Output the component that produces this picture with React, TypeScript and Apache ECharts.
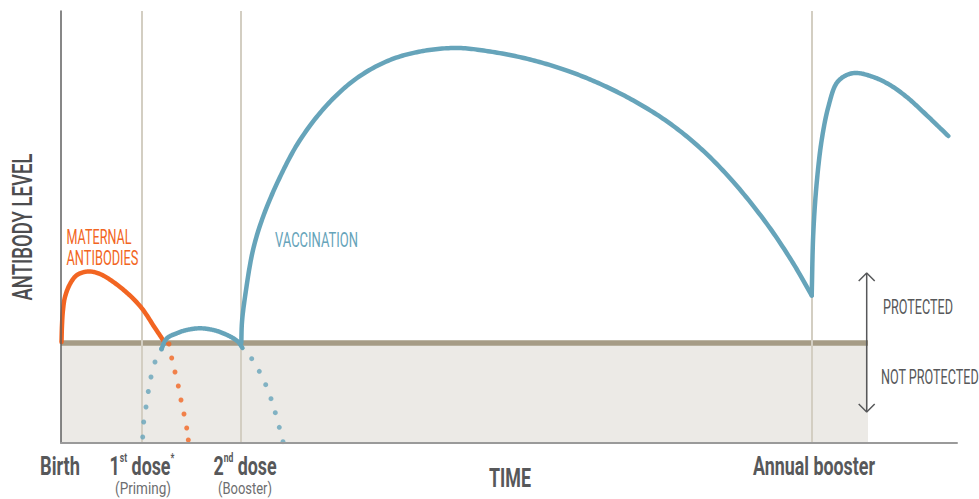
import React, { useEffect, useRef } from "react";
import * as echarts from "echarts";

// ---- data (schematic units: x = time, y = antibody level) ----
const X_MAX = 896;
const Y_MAX = 432;
const timeMarks = [81, 180, 751]; // 1st dose, 2nd dose, annual booster
const protectionThreshold = 100;
const shadeEnd = 807;

const maternal: number[][] = [
  [0.5, 101], [1, 118], [2, 133], [4, 146], [9, 159], [16, 168], [27, 171.5],
  [39, 169], [59, 156], [79, 137], [94, 115], [104, 100],
];
const maternalFade: number[][] = [
  [108, 99], [110.7, 85], [114, 71], [117.3, 57], [120, 43], [123, 29], [125.7, 15], [127.3, 3],
];
const primingRise: number[][] = [
  [81.7, 6], [82.7, 21], [85, 36], [87.3, 51.5], [90, 66], [94, 81], [100.5, 94],
];
const primingArc: number[][] = [
  [100.5, 94], [105.7, 104.5], [115.7, 109.7], [125.7, 113], [139, 114.7], [152.3, 113],
  [162.3, 109.7], [172.3, 104.7], [177.3, 101], [181.5, 95],
];
const primingFade: number[][] = [
  [190.7, 84.3], [198.3, 71.7], [204.7, 58.3], [210, 44.3], [214.3, 30.3], [218.3, 15.7], [222, 1.3],
];
const vaccination: number[][] = [
  [180.3, 100], [181, 121], [184, 146], [192, 193], [202, 226], [219, 266], [239, 303],
  [266, 338], [296, 365], [329, 383], [362, 392], [396, 395], [429, 391.5], [469, 383.5],
  [506, 372.4], [539, 359.2], [572, 342.7], [606, 321.6], [639, 295.2], [672, 261.5], [706, 219],
  [732, 180], [750.7, 147.5],
];
const booster: number[][] = [
  [750.7, 147.5], [752.3, 210], [755.7, 260], [760.7, 303], [767.3, 336], [775.7, 360],
  [785.7, 368], [795.7, 370], [812.3, 366], [829, 358], [845.7, 346], [862.3, 331],
  [879, 315], [887.3, 307],
];
const arrowX = 805.7;
const arrowFrom = 31;
const arrowTo = 170;
const arrowHead = 8;

const ORANGE = "#F26522";
const BLUE = "#66A4BA";
const GREY_TEXT = "#57585A";

function measure(text: string, font: string): number {
  const ctx = document.createElement("canvas").getContext("2d")!;
  ctx.font = font;
  return ctx.measureText(text).width || 1;
}

// centripetal Catmull-Rom rendering of pixel points (smooth drawing only)
function spline(pts: number[][], seg = 16): number[][] {
  const n = pts.length;
  if (n < 3) return pts;
  const out: number[][] = [pts[0]];
  const dist = (a: number[], b: number[]) => Math.max(Math.pow(Math.hypot(b[0] - a[0], b[1] - a[1]), 0.5), 1e-4);
  const lerp = (a: number[], b: number[], ta: number, tb: number, t: number) => {
    const k = (t - ta) / (tb - ta);
    return [a[0] + (b[0] - a[0]) * k, a[1] + (b[1] - a[1]) * k];
  };
  for (let i = 0; i < n - 1; i++) {
    const p1 = pts[i], p2 = pts[i + 1];
    const p0 = i > 0 ? pts[i - 1] : [2 * p1[0] - p2[0], 2 * p1[1] - p2[1]];
    const p3 = i < n - 2 ? pts[i + 2] : [2 * p2[0] - p1[0], 2 * p2[1] - p1[1]];
    const t0 = 0, t1 = t0 + dist(p0, p1), t2 = t1 + dist(p1, p2), t3 = t2 + dist(p2, p3);
    for (let s = 1; s <= seg; s++) {
      const t = t1 + ((t2 - t1) * s) / seg;
      const a1 = lerp(p0, p1, t0, t1, t), a2 = lerp(p1, p2, t1, t2, t), a3 = lerp(p2, p3, t2, t3, t);
      const b1 = lerp(a1, a2, t0, t2, t), b2 = lerp(a2, a3, t1, t3, t);
      out.push(lerp(b1, b2, t1, t2, t));
    }
  }
  return out;
}

function label(
  text: string, x: number, y: number, width: number, size: number, weight: number | string,
  color: string, align: string = "center", rotation = 0
) {
  const sx = width / measure(text, `${weight} ${size}px Roboto`);
  return {
    type: "text", x, y, scaleX: sx, rotation, silent: true,
    style: { text, fill: color, fontSize: size, fontWeight: weight, fontFamily: "Roboto", align, verticalAlign: "middle" },
  };
}

function richLabel(main: string, sup: string, after: string, star: string, x: number, y: number, sx: number) {
  const text = `{a|${main}}{b|${sup}}{a|${after}}{b|${star}}`;
  return {
    type: "text", x, y, scaleX: sx, silent: true,
    style: {
      text, align: "center", verticalAlign: "middle",
      rich: {
        a: { fontSize: 25, fontWeight: "bold", fontFamily: "Roboto", fill: GREY_TEXT, lineHeight: 28, verticalAlign: "middle" },
        b: { fontSize: 12, fontWeight: "bold", fontFamily: "Roboto", fill: GREY_TEXT, lineHeight: 16, verticalAlign: "top" },
      },
    },
  };
}

export default function App() {
  const ref = useRef<HTMLDivElement>(null);
  useEffect(() => {
    document.body.style.margin = "0";
    const chart = echarts.init(ref.current!, null, { renderer: "svg" });
    const boldSx = 122 / measure("Annual booster", "bold 25px Roboto");
    const curve = (data: number[][], color: string, z: number, width = 4.5) => ({
      type: "custom", data, z, silent: true, clip: false,
      encode: { x: 0, y: 1 },
      renderItem: (params: any, api: any) => {
        if (params.dataIndex !== 0) return null;
        const pts = data.map((d) => api.coord(d));
        return {
          type: "polyline",
          shape: { points: spline(pts) },
          style: { stroke: color, lineWidth: width, fill: null, lineCap: "round", lineJoin: "round" },
        };
      },
    });
    const dots = (data: number[][], color: string) => ({
      type: "scatter", data, symbolSize: 5, z: 6, silent: true, itemStyle: { color },
    });
    const arrow = (data: number[][]) => ({
      type: "line", data, symbol: "none", z: 6, silent: true,
      lineStyle: { color: GREY_TEXT, width: 1.5 },
    });
    chart.setOption({
      animation: false,
      grid: { left: 61, right: 22, top: 11, bottom: 56 },
      xAxis: {
        type: "value", min: 0, max: X_MAX, z: 10,
        axisLine: { show: true, lineStyle: { color: "#9A9A9A", width: 2 } },
        axisTick: { show: false }, axisLabel: { show: false }, splitLine: { show: false },
      },
      yAxis: {
        type: "value", min: 0, max: Y_MAX, z: 10,
        axisLine: { show: true, lineStyle: { color: "#5F5F5F", width: 1.5 } },
        axisTick: { show: false }, axisLabel: { show: false }, splitLine: { show: false },
      },
      series: [
        {
          type: "line", data: [[0, protectionThreshold], [shadeEnd, protectionThreshold]],
          symbol: "none", z: 1, silent: true, lineStyle: { width: 0 },
          areaStyle: { color: "#ECEAE6", opacity: 1 },
        },
        {
          type: "line", data: [], z: 2, silent: true,
          markLine: {
            silent: true, symbol: "none", label: { show: false },
            lineStyle: { color: "#D3CEC2", width: 2, type: "solid" },
            data: timeMarks.map((x) => ({ xAxis: x })),
          },
        },
        {
          type: "line", data: [[0, protectionThreshold], [shadeEnd, protectionThreshold]],
          symbol: "none", z: 3, silent: true, lineStyle: { color: "#A69C86", width: 5.5 },
        },
        curve(maternal, ORANGE, 5),
        curve(primingArc, BLUE, 5),
        curve(vaccination, BLUE, 5),
        curve(booster, BLUE, 5),
        dots(maternalFade, ORANGE),
        dots(primingRise, BLUE),
        dots(primingFade, BLUE),
        arrow([[arrowX, arrowFrom], [arrowX, arrowTo]]),
        arrow([[arrowX - arrowHead, arrowTo - arrowHead], [arrowX, arrowTo], [arrowX + arrowHead, arrowTo - arrowHead]]),
        arrow([[arrowX - arrowHead, arrowFrom + arrowHead], [arrowX, arrowFrom], [arrowX + arrowHead, arrowFrom + arrowHead]]),
      ],
      graphic: [
        label("ANTIBODY LEVEL", 23, 227, 147, 28, 500, "#4D4D4F", "center", Math.PI / 2),
        label("MATERNAL", 66.5, 237, 65, 21, 400, ORANGE, "left"),
        label("ANTIBODIES", 66.5, 258, 72, 21, 400, ORANGE, "left"),
        label("VACCINATION", 275, 240, 83, 20, 400, BLUE, "left"),
        label("PROTECTED", 883, 307, 70, 20, 400, GREY_TEXT, "left"),
        label("NOT PROTECTED", 881, 377, 98, 20, 400, GREY_TEXT, "left"),
        label("Birth", 60, 466, 40, 25, "bold", GREY_TEXT),
        richLabel("1", "st", " dose", "*", 142, 466, boldSx),
        richLabel("2", "nd", " dose", "", 245, 466, boldSx),
        label("(Priming)", 143, 489, 56, 16, 400, "#6D6E70"),
        label("(Booster)", 245, 489, 54, 16, 400, "#6D6E70"),
        label("TIME", 510, 478, 42, 25, "bold", GREY_TEXT),
        label("Annual booster", 814, 466, 122, 25, "bold", GREY_TEXT),
      ],
    });
    return () => chart.dispose();
  }, []);
  return <div ref={ref} style={{ width: 979, height: 499 }} />;
}
